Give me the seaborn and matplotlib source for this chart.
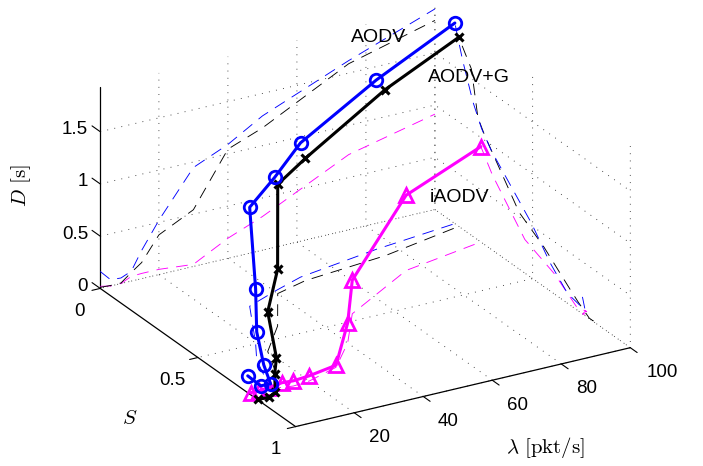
import matplotlib
matplotlib.use("Agg")
import matplotlib.pyplot as plt
import seaborn as sns
from mpl_toolkits.mplot3d import proj3d

# ---- data ----
rate = [3, 6, 9, 12, 15, 20, 30, 40, 50, 75, 100]

aodv_s = [.755, .768, .766, .678, .589, .495, .288, .239, .195, .141, .102]
aodv_d = [.162, .06, .053, .095, .27, .52, .947, 1.09, 1.285, 1.62, 1.92]

aodvg_s = [.81, .81, .79, .734, .69, .557, .431, .255, .22, .187, .122]
aodvg_d = [.01, .005, .005, .083, .154, .38, .543, 1.045, 1.17, 1.59, 1.81]

iaodv_s = [.77, .758, .756, .77, .777, .77, .73, .613, .46, .294, .235]
iaodv_d = [.02, .0, .0, .045, .05, .05, .02, .192, .322, .72, .913]

x_ticks = [20, 40, 60, 80, 100]
y_ticks = [0, 0.5, 1]
z_ticks = [0, 0.5, 1, 1.5]
y_tick_labels = ["0", "0.5", "1"]
z_tick_labels = ["0", "0.5", "1", "1.5"]

sns.set_theme(style="white")
plt.rcParams["font.family"] = ["Liberation Sans", "DejaVu Sans"]
plt.rcParams["mathtext.fontset"] = "cm"
plt.rcParams["axes3d.automargin"] = False

blue, black, magenta = sns.color_palette(["#0000ff", "#000000", "#ff00ff"])

W, H = 703, 466
fig = plt.figure(figsize=(W / 100, H / 100), dpi=100)
SIDE = 575
cx, cy = 357.5, 225
ax = fig.add_axes([(cx - SIDE / 2) / W, (H - cy - SIDE / 2) / H, SIDE / W, SIDE / H],
                  projection="3d")
ax.patch.set_alpha(0)
ax.set_proj_type("ortho")
ax.view_init(elev=24.1, azim=-120)
ax.set_box_aspect((.999, 1.01, 0.571))
ax.computed_zorder = False
ax.set_xlim(3, 100)
ax.set_ylim(1, 0)
ax.set_zlim(0, 1.93)
ax.set_xticks(x_ticks)
ax.set_yticks(y_ticks)
ax.set_zticks(z_ticks)
ax.set_xticklabels([])
ax.set_yticklabels([])
ax.set_zticklabels([])

for axis in (ax.xaxis, ax.yaxis, ax.zaxis):
    axis.pane.set_visible(False)
    axis.line.set_color("black")
    axis.line.set_linewidth(0.9)
    axis._axinfo["grid"].update(color=(0, 0, 0, 0.8), linewidth=0.65, linestyle=(0, (1, 7)))
    axis._axinfo["tick"].update(inward_factor=0.0, outward_factor=0.0)

# tick marks, drawn outward from each axis in data coordinates
tick_kw = dict(color="black", lw=0.8, zorder=1)
for t in x_ticks:
    ax.plot([t, t], [1, 1.035], [0, 0], **tick_kw)
for t in y_ticks:
    ax.plot([3, 0.6], [t, t], [0, 0], **tick_kw)
for t in z_ticks:
    ax.plot([3, 3], [0, -0.042], [t, t], **tick_kw)

series = [
    (iaodv_s, iaodv_d, magenta, "^", 10.5, 2.0, 4),
    (aodvg_s, aodvg_d, black, "x", 6.0, 2.2, 5),
    (aodv_s, aodv_d, blue, "o", 9.0, 2.0, 6),
]
n = len(rate)
for s_vals, d_vals, col, mk, ms, mew, z in series:
    wall_kw = dict(color=col, lw=0.65, ls=(0, (13, 9)), zorder=2)
    ax.plot(rate, [0] * n, d_vals, **wall_kw)
    ax.plot([100] * n, s_vals, d_vals, **wall_kw)
    ax.plot(rate, s_vals, [0] * n, **wall_kw)
for s_vals, d_vals, col, mk, ms, mew, z in series:
    ax.plot(rate, s_vals, d_vals, color=col, lw=2.2, marker=mk, ms=ms,
            mew=mew, mfc="none", mec=col, zorder=z)

fig.canvas.draw()
M = ax.get_proj()


def place(label, x, y, z, dx, dy, ha="center"):
    px, py, _ = proj3d.proj_transform(x, y, z, M)
    ax.annotate(label, xy=(px, py), xytext=(dx, dy), textcoords="offset pixels",
                ha=ha, va="center", fontsize=13.5, color="black",
                annotation_clip=False)


for t, dx in zip(x_ticks, [25, 25, 25, 25, 32]):
    place(str(t), t, 1, 0, dx, -25)
for t, lab, dx in zip(y_ticks, y_tick_labels, [-21, -26, -20]):
    place(lab, 3, t, 0, dx, -23)
for t, lab in zip(z_ticks, z_tick_labels):
    place(lab, 3, 0, t, -12, 2, ha="right")

fig.text(351 / W, 1 - 37 / H, "AODV", fontsize=14, ha="left", va="center", color="black")
fig.text(428 / W, 1 - 77 / H, "AODV+G", fontsize=14, ha="left", va="center", color="black")
fig.text(430 / W, 1 - 197 / H, "iAODV", fontsize=14, ha="left", va="center", color="black")
fig.text(21 / W, 1 - 186 / H, r"$D\ \mathrm{[s]}$", fontsize=15, rotation=90,
         ha="center", va="center", color="black")
fig.text(130 / W, 1 - 419 / H, r"$S$", fontsize=15, ha="center", va="center", color="black")
fig.text(545 / W, 1 - 447 / H, r"$\lambda\ \mathrm{[pkt/s]}$", fontsize=15,
         ha="center", va="center", color="black")

fig.savefig("out.png", dpi=100, facecolor="white")
